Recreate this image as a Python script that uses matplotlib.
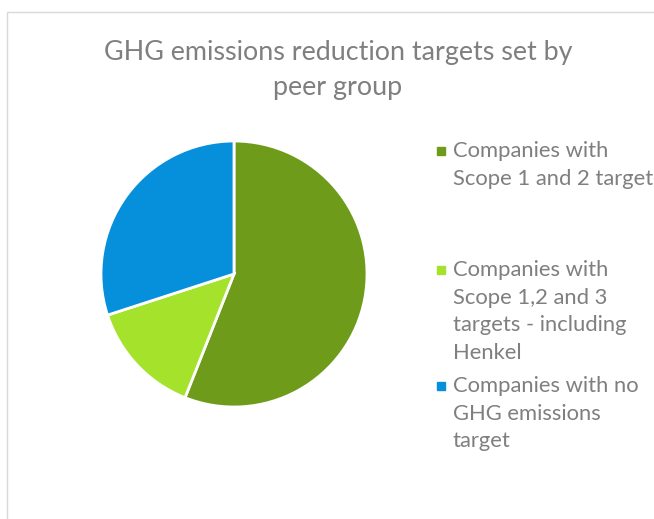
import matplotlib.pyplot as plt
from matplotlib.patches import Rectangle

title = "GHG emissions reduction targets set by\npeer group"
labels = ["Companies with\nScope 1 and 2 targets",
          "Companies with\nScope 1,2 and 3\ntargets - including\nHenkel",
          "Companies with no\nGHG emissions\ntarget"]
shares = [56, 14, 30]
colors = ["#6E9B1A", "#A5E22C", "#068FDB"]

W, H = 654, 519
fig = plt.figure(figsize=(W / 100, H / 100), dpi=100)
plt.rcParams['font.family'] = ['Lato', 'DejaVu Sans']
text_col = "#7F7F7F"

# chart-area border (only top and left visible in the crop)
fig.add_artist(Rectangle((7 / W, -0.1), 1.2, 1.1 - 12 / H, transform=fig.transFigure,
                         fill=False, edgecolor="#D9D9D9", linewidth=1))

ax = fig.add_axes([(234 - 133) / W, (H - 274 - 133) / H, 266 / W, 266 / H])
ax.pie(shares, colors=colors, startangle=90, counterclock=False,
       wedgeprops=dict(edgecolor="white", linewidth=2))
ax.set_xlim(-1, 1)
ax.set_ylim(-1, 1)
ax.set_aspect('equal')
ax.axis('off')

fig.text(338 / W, 1 - 70 / H, title, ha='center', va='center', fontsize=19.4,
         color=text_col, linespacing=1.5)

# legend (the reference crop cuts the first label at the right edge)
entry_y = [151, 270, 386]
for lab, col, y in zip(labels, colors, entry_y):
    fig.add_artist(Rectangle((437 / W, 1 - (y + 4) / H), 8 / W, 8 / H,
                             transform=fig.transFigure, color=col))
    fig.text(453 / W, 1 - (y - 10) / H, lab, ha='left', va='top', fontsize=15.8,
             color=text_col, linespacing=1.48)

fig.savefig("out.png", dpi=100)
